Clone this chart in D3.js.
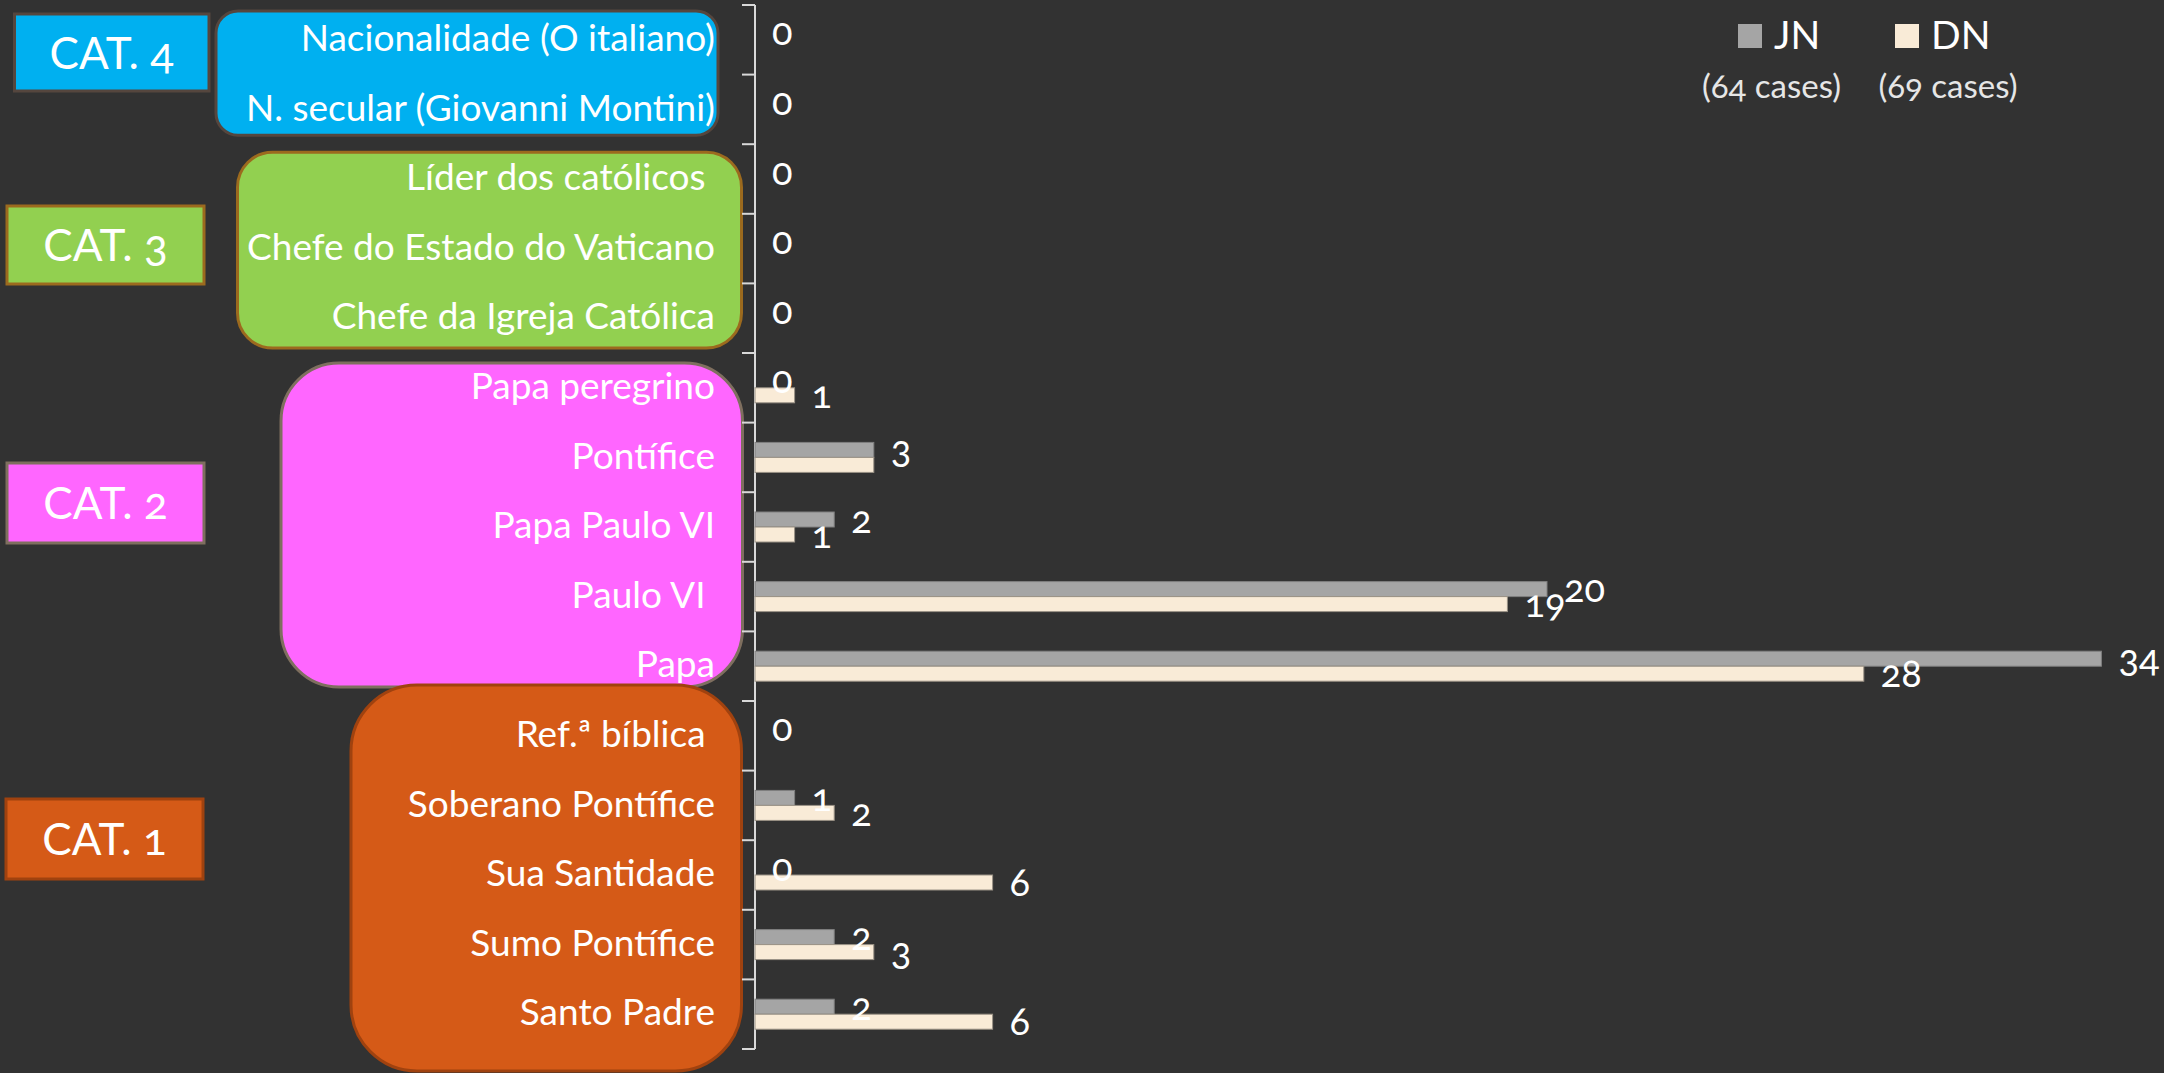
<!DOCTYPE html>
<html>
<head>
<meta charset="utf-8">
<script src="https://cdn.jsdelivr.net/npm/d3@7"></script>
<style>
  html, body { margin: 0; padding: 0; background: #323232; }
  svg { display: block; }
  text { font-family: Lato, "Open Sans", sans-serif; fill: #fff; font-variant-numeric: oldstyle-nums; }
</style>
</head>
<body>
<svg id="chart" width="2164" height="1073"></svg>
<script>
// categories top to bottom
const categories = [
  "Nacionalidade (O italiano)",
  "N. secular (Giovanni Montini)",
  "Líder dos católicos ",
  "Chefe do Estado do Vaticano",
  "Chefe da Igreja Católica",
  "Papa peregrino",
  "Pontífice",
  "Papa Paulo VI",
  "Paulo VI ",
  "Papa",
  "Ref.ª bíblica ",
  "Soberano Pontífice",
  "Sua Santidade",
  "Sumo Pontífice",
  "Santo Padre"
];
const jnValues = [0, 0, 0, 0, 0, 0, 3, 2, 20, 34, 0, 1, 0, 2, 2];
const dnValues = [null, null, null, null, null, 1, 3, 1, 19, 28, null, 2, 6, 3, 6];
const seriesNames = ["JN", "DN"];
const seriesCases = ["(64 cases)", "(69 cases)"];
const groupNames = ["CAT. 4", "CAT. 3", "CAT. 2", "CAT. 1"];
const groupFirst = [0, 2, 5, 10];
const groupLast = [1, 4, 9, 14];

const colors = { JN: "#a5a5a5", DN: "#f9ebd7" };
const strokes = { JN: "#808080", DN: "#9a9286" };
const casesOffset = [33.5, 53];

// decoration layout for the category boxes
const groupStyle = [
  { fill: "#00b0f0", stroke: "#55463e", bx0: 216, bx1: 718, top: 6, bottom: -9, r: 22,
    lx: 14.5, ly: 14, lw: 194.5, lh: 77 },
  { fill: "#92d050", stroke: "#9c6a1e", bx0: 237.5, bx1: 741.5, top: 8, bottom: -5, r: 35,
    lx: 7, ly: 206, lw: 197, lh: 78 },
  { fill: "#ff66ff", stroke: "#7f6f5f", bx0: 281, bx1: 742.5, top: 10, bottom: -14, r: 58,
    lx: 7, ly: 463, lw: 197, lh: 80 },
  { fill: "#d55a17", stroke: "#a0420f", bx0: 351, bx1: 741.5, top: -16, bottom: 22, r: 66,
    lx: 6, ly: 799, lw: 197, lh: 80 }
];

const svg = d3.select("#chart");
svg.append("rect").attr("width", 2164).attr("height", 1073).attr("fill", "#323232");

const x = d3.scaleLinear().domain([0, 35]).range([755, 2141]);
const y = d3.scaleBand().domain(categories).range([5, 1049]);
const ySub = d3.scaleBand().domain(seriesNames).range([0, y.bandwidth()])
  .paddingInner(0).paddingOuter(1.32);

// rounded boxes behind the labels
const groups = groupNames.map((g, i) => ({
  name: g,
  y0: y(categories[groupFirst[i]]),
  y1: y(categories[groupLast[i]]) + y.bandwidth(),
  s: groupStyle[i]
}));

svg.append("g").selectAll("rect")
  .data(groups)
  .join("rect")
    .attr("x", d => d.s.bx0)
    .attr("y", d => d.y0 + d.s.top)
    .attr("width", d => d.s.bx1 - d.s.bx0)
    .attr("height", d => (d.y1 + d.s.bottom) - (d.y0 + d.s.top))
    .attr("rx", d => d.s.r)
    .attr("fill", d => d.s.fill)
    .attr("stroke", d => d.s.stroke)
    .attr("stroke-width", 3);

// CAT. labels on the left
const catG = svg.append("g").selectAll("g")
  .data(groups)
  .join("g");
catG.append("rect")
  .attr("x", d => d.s.lx)
  .attr("y", d => d.s.ly)
  .attr("width", d => d.s.lw)
  .attr("height", d => d.s.lh)
  .attr("fill", d => d.s.fill)
  .attr("stroke", d => d.s.stroke)
  .attr("stroke-width", 3);
catG.append("text")
  .attr("x", d => d.s.lx + d.s.lw / 2)
  .attr("y", d => d.s.ly + d.s.lh / 2 + 16)
  .attr("text-anchor", "middle")
  .style("font-size", "44px")
  .text(d => d.name);

// y axis: labels at band centres, ticks at band edges
const yAxis = svg.append("g")
  .attr("transform", `translate(${x(0)},0)`)
  .call(d3.axisLeft(y).tickSize(0).tickPadding(40));
yAxis.select(".domain").remove();
yAxis.selectAll("text")
  .style("font-size", "37px")
  .style("white-space", "pre")
  .attr("dy", "0.3em")
  .attr("fill", "#fff");

const edges = categories.map(c => y(c)).concat([y(categories[categories.length - 1]) + y.bandwidth()]);
svg.append("g").selectAll("line")
  .data(edges)
  .join("line")
    .attr("x1", x(0) - 13).attr("x2", x(0))
    .attr("y1", d => d).attr("y2", d => d)
    .attr("stroke", "#d9d9d9").attr("stroke-width", 2);
svg.append("line")
  .attr("x1", x(0)).attr("x2", x(0))
  .attr("y1", edges[0]).attr("y2", edges[edges.length - 1])
  .attr("stroke", "#d9d9d9").attr("stroke-width", 2);

// bars
const rows = [];
categories.forEach((c, i) => {
  rows.push({ cat: c, key: "JN", value: jnValues[i], other: dnValues[i] });
  rows.push({ cat: c, key: "DN", value: dnValues[i], other: jnValues[i] });
});

svg.append("g").selectAll("rect")
  .data(rows.filter(d => d.value > 0))
  .join("rect")
    .attr("x", x(0))
    .attr("y", d => y(d.cat) + ySub(d.key))
    .attr("width", d => x(d.value) - x(0))
    .attr("height", ySub.bandwidth())
    .attr("fill", d => colors[d.key])
    .attr("stroke", d => strokes[d.key])
    .attr("stroke-width", 1);

// value labels (a DN label equal to JN's sits under it and is not shown)
svg.append("g").selectAll("text")
  .data(rows.filter(d => d.value !== null && !(d.key === "DN" && d.value === d.other)))
  .join("text")
    .attr("x", d => x(d.value) + 17)
    .attr("y", d => y(d.cat) + ySub(d.key) + ySub.bandwidth() / 2 + 13)
    .style("font-size", "38px")
    .text(d => d.value);

// legend
const leg = svg.append("g").selectAll("g")
  .data(seriesNames)
  .join("g")
    .attr("transform", (d, i) => `translate(${1738 + i * 157},0)`);
leg.append("rect")
  .attr("x", 0).attr("y", 24).attr("width", 24).attr("height", 24)
  .attr("fill", d => colors[d]);
leg.append("text")
  .attr("x", 36).attr("y", 49)
  .style("font-size", "39px")
  .text(d => d);
leg.append("text")
  .attr("x", (d, i) => casesOffset[i]).attr("y", 98)
  .attr("text-anchor", "middle")
  .style("font-size", "33px")
  .style("fill", "#e6e6e6")
  .text((d, i) => seriesCases[i]);
</script>
</body>
</html>
